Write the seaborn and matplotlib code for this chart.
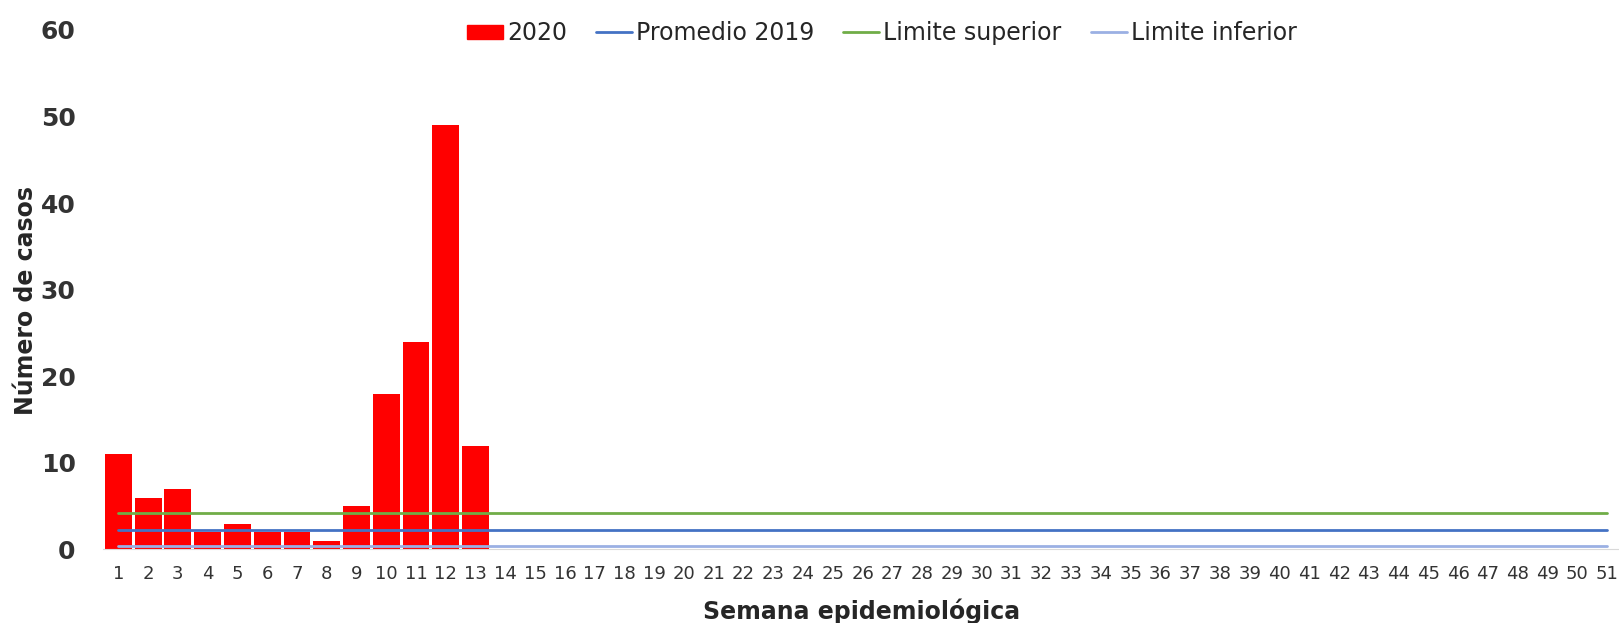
import numpy as np
import pandas as pd
import seaborn as sns
import matplotlib.pyplot as plt
from matplotlib.patches import Patch
from matplotlib.lines import Line2D

# datos
semanas_2020 = list(range(1, 14))
casos_2020 = [11, 6, 7, 2, 3, 2, 2, 1, 5, 18, 24, 49, 12]
semanas = list(range(1, 52))
promedio_2019 = 2.2
limite_superior = 4.2
limite_inferior = 0.35

sns.set_style("white")
plt.rcParams["font.family"] = ["DejaVu Sans"]

df_bar = pd.DataFrame({"semana": semanas_2020, "casos": casos_2020})
df_lin = pd.DataFrame({
    "semana": semanas,
    "Promedio 2019": np.full(len(semanas), promedio_2019),
    "Limite superior": np.full(len(semanas), limite_superior),
    "Limite inferior": np.full(len(semanas), limite_inferior),
})

fig = plt.figure(figsize=(16.19, 6.23), dpi=100)
ax = fig.add_axes([0.0639, 0.118, 0.9361, 0.834])

sns.barplot(data=df_bar, x="semana", y="casos", native_scale=True, color="#FF0000",
            saturation=1, width=0.9, linewidth=0, ax=ax)

colores = {"Promedio 2019": "#4472C4", "Limite superior": "#70AD47", "Limite inferior": "#9BB0E3"}
for nombre, c in colores.items():
    sns.lineplot(data=df_lin, x="semana", y=nombre, color=c, linewidth=2, ax=ax)

ax.set_xlim(0.5, 51.4)
ax.set_ylim(0, 60)
ax.set_xticks(semanas)
ax.set_xticklabels([str(s) for s in semanas], fontsize=13, color="#333333")
ax.set_yticks(range(0, 61, 10))
ax.set_yticklabels([str(v) for v in range(0, 61, 10)], fontsize=18, color="#333333", fontweight="bold")
ax.tick_params(axis="x", length=0, pad=11)
ax.tick_params(axis="y", length=0, pad=20)

ax.set_xlabel("Semana epidemiológica", fontsize=17, fontweight="bold")
ax.set_ylabel("Número de casos", fontsize=17, fontweight="bold")
ax.xaxis.set_label_coords(0.5, -0.094)
ax.yaxis.set_label_coords(-0.0435, 0.48)

for s in ["top", "right", "left"]:
    ax.spines[s].set_visible(False)
ax.spines["bottom"].set_color("#D9D9D9")

handles = [Patch(color="#FF0000", label="2020")] + [
    Line2D([0], [0], color=c, linewidth=2, label=n) for n, c in colores.items()]
fig.legend(handles=handles, loc="center left", bbox_to_anchor=(0.281, 0.947), ncol=4,
           frameon=False, fontsize=17, handlelength=1.53, handleheight=0.55,
           handletextpad=0.17, columnspacing=1.23, borderpad=0)

fig.savefig("out.png", dpi=100)
